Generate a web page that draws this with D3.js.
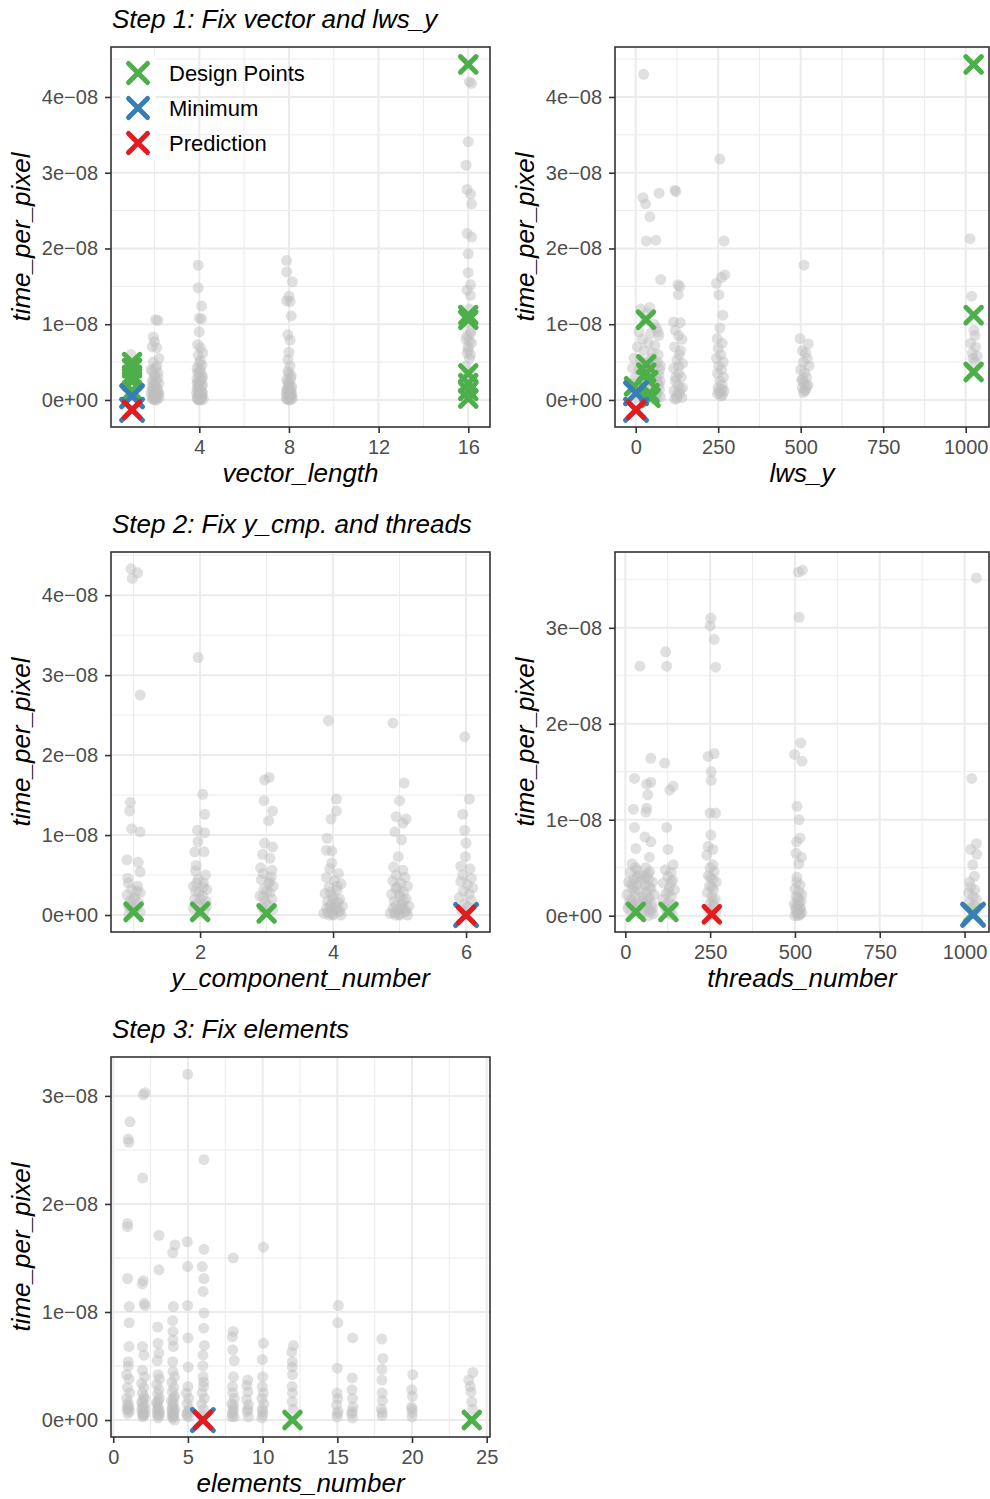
<!DOCTYPE html>
<html>
<head>
<meta charset="utf-8">
<script src="https://cdn.jsdelivr.net/npm/d3@7"></script>
<style>
body { margin: 0; background: #fff; }
svg text { font-family: "Liberation Sans", Arial, Helvetica, sans-serif; }
</style>
</head>
<body>
<svg id="chart" width="990" height="1499"></svg>
<script>
// time_per_pixel values below are in units of 1e-08

// Step 1 - vector_length
var vecGray = [
    [0.95,0.6],[1.1,0.5],[0.9,0.4],[1.05,0.3],[1.15,0.2],[0.92,0.12],[1.08,0.05],
    [2.05,1.06],[2.15,1.05],[1.95,0.83],[2.0,0.77],[1.9,0.7],[2.1,0.69],[2.2,0.55],[1.95,0.5],
    [2.1,0.45],[1.85,0.4],[2.15,0.36],[2.0,0.3],[1.9,0.25],[2.2,0.22],[2.05,0.18],[1.95,0.15],
    [2.15,0.12],[1.85,0.1],[2.0,0.08],[2.1,0.06],[1.9,0.04],[2.2,0.03],[2.0,0.02],[1.95,0.01],
    [2.1,0.0],[2.05,0.12],[1.9,0.18],[2.2,0.08],[2.15,0.3],
    [2.0,0.0],[1.9,0.02],[2.1,0.03],[2.0,0.05],[1.95,0.07],[2.15,0.09],[2.05,0.1],[1.9,0.13],
    [2.1,0.16],[2.0,0.2],[1.95,0.23],[2.1,0.26],[2.0,0.33],[1.9,0.38],[2.05,0.42],
    [3.95,1.78],[3.95,1.48],[4.1,1.24],[4.0,1.08],[4.1,1.07],[4.0,0.9],[3.92,0.73],[4.05,0.69],
    [4.15,0.62],[3.95,0.59],[4.05,0.52],[4.12,0.46],[3.9,0.42],[4.0,0.38],[4.1,0.33],[3.9,0.28],
    [4.05,0.25],[4.15,0.2],[3.95,0.17],[4.0,0.14],[4.1,0.11],[3.88,0.09],[3.98,0.07],[4.12,0.05],
    [3.92,0.03],[4.05,0.02],[4.18,0.01],[3.95,0.0],[4.08,0.0],[3.9,0.22],[4.15,0.3],
    [4.0,0.0],[3.9,0.02],[4.1,0.04],[4.0,0.06],[3.95,0.08],[4.15,0.1],[4.05,0.12],[3.9,0.15],
    [4.1,0.18],[4.0,0.21],[3.95,0.24],[4.1,0.27],[4.0,0.32],[3.92,0.36],[4.05,0.4],[4.0,0.48],
    [7.9,1.84],[7.9,1.69],[8.15,1.56],[8.0,1.37],[7.9,1.31],[8.05,1.3],[8.1,1.11],[7.95,0.86],
    [8.05,0.79],[8.0,0.63],[7.95,0.53],[8.05,0.45],[7.95,0.38],[8.1,0.32],[7.9,0.27],[8.0,0.22],
    [8.12,0.18],[7.92,0.14],[8.03,0.11],[7.88,0.08],[8.1,0.06],[7.98,0.04],[8.15,0.02],[7.9,0.01],
    [8.05,0.0],[7.95,0.16],
    [8.0,0.0],[7.9,0.02],[8.1,0.03],[8.0,0.05],[7.95,0.07],[8.12,0.09],[8.05,0.1],[7.9,0.12],
    [8.1,0.15],[8.0,0.19],[7.95,0.24],[8.08,0.28],[8.0,0.35],
    [16.05,4.2],[16.15,4.18],[16.0,3.41],[15.9,3.1],[15.95,2.78],[16.1,2.72],[16.15,2.59],
    [15.95,2.2],[16.15,2.15],[16.0,1.93],[16.0,1.68],[16.1,1.52],[15.95,1.45],[16.1,1.38],
    [16.05,1.2],[15.95,1.02],[16.1,0.88],[15.9,0.8],[16.15,0.75],[16.0,0.7],[15.95,0.62],
    [16.05,0.55],[15.9,0.45],[16.1,0.35],[16.0,0.28],[15.95,0.18],[16.1,0.1],[16.0,0.05],
    [16.1,0.9],[15.95,0.85],[16.05,0.78],[16.0,0.66],[16.1,0.6]
];
var vecDesign = [[1,0.5],[1,0.42],[1,0.33],[1,0.25],[1,0.12],[16,4.43],[16,1.12],[16,1.06],
    [16,0.35],[16,0.22],[16,0.12],[16,0.02]];
var vecMin = [[1,0.05],[1,-0.13]];
var vecPred = [[1,-0.13]];

// Step 1 - lws_y
var lwsGray = [
    [24,4.3],[22,2.67],[30,2.59],[43,2.42],[71,2.73],[32,2.1],[61,2.11],[76,1.59],
    [15,1.2],[42,1.22],[35,1.15],[28,1.05],[55,1.0],[62,0.95],[10,0.9],[45,0.88],[70,0.85],
    [20,0.8],[38,0.75],[58,0.72],[5,0.7],[25,0.65],[50,0.62],[68,0.6],[-5,0.55],[15,0.52],
    [35,0.5],[60,0.48],[75,0.45],[-10,0.42],[10,0.4],[30,0.38],[55,0.36],[70,0.33],[0,0.3],
    [20,0.28],[45,0.26],[65,0.24],[-15,0.22],[5,0.2],[25,0.18],[50,0.16],[72,0.14],[-8,0.12],
    [15,0.1],[40,0.08],[60,0.06],[75,0.04],[0,0.03],[30,0.02],[55,0.01],[68,0.9],[48,0.55],[20,0.45],
    [65,0.1],[70,0.2],[62,0.3],[72,0.4],[66,0.5],[58,0.15],[74,0.25],[52,0.05],[64,0.02],
    [119,2.77],[122,2.75],[134,1.5],[129,1.39],[128,1.52],[115,1.03],[135,1.02],[120,0.92],
    [130,0.85],[140,0.8],[118,0.7],[132,0.6],[125,0.53],[142,0.48],[115,0.42],[130,0.35],
    [138,0.3],[120,0.25],[128,0.2],[142,0.16],[116,0.12],[133,0.08],[124,0.05],[140,0.03],[118,0.01],
    [128,0.1],[135,0.15],[122,0.3],[130,0.45],[136,0.65],[124,0.02],
    [255,3.18],[268,2.1],[245,1.54],[260,1.62],[270,1.65],[252,1.39],[264,1.12],[255,0.95],
    [247,0.81],[262,0.75],[250,0.68],[258,0.6],[245,0.55],[265,0.5],[252,0.45],[260,0.4],
    [248,0.35],[266,0.3],[255,0.25],[262,0.2],[250,0.16],[268,0.12],[257,0.1],[248,0.08],[263,0.06],
    [258,0.05],[252,0.12],[262,0.14],
    [510,1.78],[498,0.81],[523,0.74],[505,0.65],[515,0.62],[520,0.55],[508,0.5],[525,0.45],
    [500,0.4],[512,0.36],[518,0.3],[503,0.26],[510,0.22],[522,0.2],[505,0.16],[515,0.13],[508,0.1],
    [512,0.12],[518,0.18],[506,0.28],
    [1013,2.13],[1018,1.37],[1025,0.92],[1028,0.85],[1015,0.75],[1030,0.7],[1020,0.62],
    [1035,0.58],[1022,0.55],[1028,0.5]
];
var lwsDesign = [[1024,4.43],[1024,1.12],[1024,0.37],[31,1.06],[32,0.47],[32,0.36],[38,0.26],
    [-5,0.18],[42,0.09],[45,0.03]];
var lwsMin = [[1,0.09],[1,-0.13]];
var lwsPred = [[1,-0.13]];

// Step 2 - y_component_number
var ycmpGray = [
    [0.96,4.33],[1.06,4.28],[0.98,4.21],[1.1,2.75],[0.95,1.41],[0.94,1.3],[0.97,1.08],[1.1,1.04],
    [0.9,0.69],[1.07,0.66],[1.1,0.54],[0.91,0.46],
    [0.92,0.4],[1.06,0.36],[0.97,0.32],[1.1,0.28],[0.9,0.25],[1.02,0.22],[0.95,0.18],[1.08,0.15],
    [0.92,0.12],[1.04,0.09],[0.98,0.06],[1.1,0.04],[0.93,0.02],
    [1.0,0.2],[0.95,0.1],[1.05,0.3],
    [1.97,3.22],[2.04,1.51],[2.07,1.26],[1.96,1.06],[2.07,1.03],[1.97,0.92],[1.92,0.79],[2.06,0.79],
    [1.94,0.62],[1.93,0.55],[2.08,0.5],[1.97,0.45],[2.05,0.4],[1.9,0.36],[2.1,0.32],[1.98,0.28],
    [2.04,0.24],[1.92,0.2],[2.09,0.17],[1.96,0.14],[2.02,0.11],[1.9,0.08],[2.07,0.06],[1.99,0.03],
    [2.1,0.12],[1.93,0.3],[2.0,0.2],[2.05,0.35],[1.95,0.4],
    [2.97,1.69],[3.04,1.72],[2.96,1.43],[3.09,1.3],[3.03,1.18],[2.97,0.9],[3.09,0.85],[2.94,0.76],
    [3.05,0.71],[2.91,0.59],[3.08,0.56],[2.95,0.52],[3.07,0.48],[2.92,0.44],[3.03,0.4],[3.1,0.36],
    [2.96,0.32],[3.05,0.28],[2.9,0.24],[3.08,0.2],[2.98,0.17],[3.02,0.13],[2.93,0.1],[3.09,0.07],[2.97,0.04],
    [3.0,0.3],[3.05,0.42],[2.95,0.22],
    [3.93,2.43],[4.05,1.45],[4.05,1.3],[3.97,1.2],[3.91,0.96],[3.9,0.81],[3.98,0.8],[3.98,0.65],
    [3.95,0.58],[4.08,0.52],[3.9,0.47],[4.02,0.43],[4.12,0.39],[3.94,0.35],[4.06,0.31],[3.88,0.27],
    [4.0,0.24],[4.1,0.2],[3.92,0.17],[4.04,0.14],[4.14,0.11],[3.9,0.08],[3.98,0.06],[4.08,0.04],
    [3.86,0.02],[4.0,0.01],[4.12,0.0],[3.94,0.0],[4.05,0.09],[3.96,0.13],
    [4.0,0.0],[3.92,0.03],[4.1,0.05],[4.02,0.08],[3.95,0.1],[4.08,0.16],[4.0,0.2],[3.96,0.28],[4.06,0.36],
    [4.9,2.4],[5.07,1.65],[5.0,1.43],[4.95,1.23],[5.1,1.2],[5.05,1.15],[4.93,1.04],[5.03,0.94],
    [4.98,0.73],[4.91,0.6],[5.05,0.56],[4.95,0.5],[5.08,0.47],[4.9,0.43],[5.02,0.4],[5.12,0.36],
    [4.94,0.33],[5.06,0.29],[4.88,0.26],[5.0,0.23],[5.1,0.2],[4.92,0.17],[5.04,0.14],[5.14,0.11],
    [4.9,0.08],[4.98,0.06],[5.08,0.04],[4.86,0.02],[5.0,0.01],[5.12,0.0],[4.94,0.0],[5.05,0.09],
    [5.0,0.0],[4.92,0.03],[5.1,0.05],[5.02,0.08],[4.95,0.12],[5.06,0.18],[5.0,0.27],[4.96,0.35],
    [5.98,2.23],[6.05,1.45],[5.95,1.26],[5.98,1.06],[6.0,0.9],[5.99,0.73],[5.92,0.61],[6.06,0.58],
    [5.95,0.5],[6.08,0.46],[5.92,0.42],[6.02,0.38],[6.1,0.34],[5.96,0.3],[6.05,0.26],[5.9,0.22],
    [6.08,0.18],[5.98,0.14],[6.03,0.1],[5.93,0.06]
];
var ycmpDesign = [[1,0.04],[2,0.04],[3,0.02]];
var ycmpMin = [[6,0.0]];
var ycmpPred = [[6,0.0]];

// Step 2 - threads_number
var thrGray = [
    [43,2.6],[27,1.43],[63,1.37],[75,1.39],[66,1.26],[75,1.64],[24,1.11],[63,1.12],[61,1.08],
    [27,0.92],[58,0.82],[75,0.77],[31,0.7],[71,0.61],[20,0.54],
    [30,0.5],[15,0.45],[40,0.42],[25,0.38],[10,0.35],[35,0.32],[20,0.28],[45,0.25],[5,0.22],
    [30,0.2],[15,0.17],[38,0.14],[22,0.11],[8,0.08],[32,0.06],[18,0.04],[42,0.02],
    [60,0.5],[72,0.46],[55,0.42],[68,0.38],[80,0.35],[58,0.32],[75,0.28],[62,0.25],[85,0.22],
    [66,0.18],[54,0.15],[78,0.12],[64,0.09],[70,0.06],[58,0.04],[82,0.02],[68,0.0],
    [25,0.3],[35,0.4],[20,0.15],[40,0.1],[62,0.15],[75,0.05],[70,0.3],[60,0.4],[28,0.25],[72,0.18],
    [33,0.48],[18,0.33],[48,0.36],[12,0.12],[52,0.2],[80,0.08],[66,0.44],
    [119,2.75],[122,2.6],[116,1.59],[131,1.31],[141,1.35],[122,0.92],[126,0.69],[141,0.53],
    [118,0.48],[135,0.45],[125,0.41],[140,0.37],[112,0.34],[130,0.3],[145,0.27],[120,0.23],
    [135,0.2],[110,0.17],[128,0.14],[142,0.11],[118,0.08],[132,0.05],[124,0.03],[138,0.01],
    [128,0.25],[122,0.12],[135,0.35],
    [252,3.1],[250,3.02],[262,2.88],[266,2.59],[244,1.66],[262,1.69],[253,1.5],[253,1.41],
    [250,1.07],[266,1.07],[252,0.84],[244,0.72],[258,0.69],[240,0.63],[258,0.53],
    [250,0.5],[262,0.46],[245,0.42],[258,0.38],[268,0.35],[248,0.31],[260,0.27],[242,0.24],
    [255,0.2],[265,0.17],[250,0.13],[260,0.1],[245,0.07],[256,0.05],[266,0.03],[252,0.01],
    [255,0.3],[258,0.15],[250,0.4],
    [510,3.58],[522,3.6],[512,3.11],[499,1.68],[517,1.8],[521,1.61],[506,1.14],[512,1.0],
    [505,0.77],[515,0.81],[503,0.65],[519,0.61],[511,0.54],[506,0.4],
    [505,0.35],[515,0.32],[500,0.28],[512,0.25],[520,0.22],[503,0.2],[510,0.17],[518,0.15],
    [498,0.12],[508,0.1],[516,0.08],[502,0.06],[512,0.05],[520,0.03],[506,0.02],[514,0.01],
    [500,0.0],[510,0.0],[508,0.04],[515,0.07],[505,0.11],[512,0.14],[508,0.19],[514,0.02],[504,0.08],
    [1035,3.52],[1021,1.43],[1018,0.69],[1035,0.75],[1036,0.64],[1024,0.53],[1029,0.41],[1015,0.35],
    [1018,0.3],[1030,0.27],[1012,0.24],[1025,0.2],[1035,0.17],[1015,0.14],[1028,0.11],[1020,0.08],[1032,0.05]
];
var thrDesign = [[31,0.04],[127,0.04],[1024,0.02]];
var thrMin = [[1025,0.01]];
var thrPred = [[255,0.015]];

// Step 3 - elements_number
var elemGray = [
    [1.12,2.76],[1.0,2.6],[1.05,2.57],[0.96,1.82],[0.96,1.79],[0.96,1.31],[1.07,1.05],[1.07,0.9],
    [1.05,0.68],[1.0,0.54],[1.0,0.5],[0.9,0.42],[1.05,0.38],[0.95,0.3],[1.1,0.25],[0.9,0.2],
    [1.0,0.16],[1.05,0.12],[0.92,0.1],[1.08,0.08],[0.98,0.06],[1.0,0.1],[0.95,0.14],
    [2.01,3.01],[2.12,3.03],[1.97,2.24],[2.01,1.29],[1.94,1.26],[2.12,1.06],[2.08,1.08],
    [1.95,0.68],[2.05,0.6],[1.95,0.46],[2.1,0.4],[1.9,0.34],[2.05,0.3],[1.95,0.25],[2.1,0.2],
    [1.9,0.16],[2.0,0.12],[2.12,0.1],[1.92,0.07],[2.05,0.05],[1.98,0.03],[2.0,0.08],[2.08,0.14],[1.96,0.18],
    [2.0,0.04],[2.1,0.06],[1.92,0.11],[2.04,0.22],
    [3.06,1.71],[3.06,1.39],[2.97,0.86],[3.0,0.71],[3.05,0.62],[2.95,0.55],[3.0,0.42],[3.1,0.38],
    [2.92,0.33],[3.05,0.28],[2.98,0.24],[3.08,0.2],[2.9,0.16],[3.02,0.12],[3.1,0.08],[2.95,0.05],[3.0,0.02],
    [3.0,0.1],[2.96,0.15],[3.05,0.06],[3.08,0.04],[2.94,0.09],[3.02,0.18],
    [4.13,1.62],[3.98,1.55],[4.02,1.05],[3.98,0.92],[4.0,0.82],[4.0,0.74],[4.02,0.68],[3.98,0.54],
    [4.0,0.45],[4.1,0.4],[3.92,0.35],[4.05,0.3],[3.95,0.26],[4.1,0.22],[3.9,0.18],[4.02,0.14],
    [4.12,0.1],[3.95,0.07],[4.05,0.04],[3.98,0.02],[4.1,0.0],[4.0,0.06],[3.96,0.12],[4.04,0.2],
    [4.0,0.03],[4.08,0.08],[3.92,0.1],[4.0,0.16],[3.95,0.04],
    [4.98,3.2],[4.96,1.65],[4.98,1.42],[4.98,1.06],[5.0,0.76],[5.02,0.49],[5.0,0.31],[4.9,0.25],
    [5.05,0.2],[4.95,0.15],[5.1,0.1],[4.92,0.06],[5.05,0.03],[5.0,0.08],[4.95,0.04],
    [6.07,2.41],[6.07,1.58],[5.96,1.42],[6.07,1.31],[6.02,1.19],[6.07,0.99],[6.05,0.85],[6.1,0.69],
    [6.0,0.6],[6.02,0.4],[6.05,0.31],[5.95,0.25],[6.1,0.2],[5.92,0.15],[6.05,0.1],[5.98,0.05],
    [6.0,0.5],[6.05,0.35],
    [8.03,1.5],[8.03,0.82],[7.97,0.77],[8.0,0.65],[8.1,0.55],[8.05,0.4],[7.98,0.31],[8.0,0.25],
    [8.1,0.2],[7.92,0.15],[8.05,0.1],[7.98,0.06],[8.1,0.03],[8.0,0.08],[8.05,0.14],[7.95,0.03],
    [9.0,0.37],[8.95,0.32],[9.02,0.26],[8.93,0.19],[9.05,0.14],[8.98,0.08],[9.05,0.03],[9.0,0.1],
    [10.05,1.6],[10.05,0.71],[9.98,0.56],[10.0,0.4],[9.98,0.31],[10.05,0.25],[9.95,0.2],[10.08,0.15],
    [9.98,0.1],[10.02,0.05],[9.95,0.02],[10.0,0.08],
    [12.06,0.69],[11.95,0.63],[11.99,0.54],[11.98,0.49],[12.0,0.42],[11.98,0.31],[12.0,0.25],[11.98,0.17],
    [12.05,0.1],
    [15.07,1.06],[15.03,0.9],[15.0,0.48],[14.98,0.25],[15.02,0.2],[14.95,0.14],[15.05,0.08],[14.98,0.03],
    [15.0,0.06],
    [16.03,0.76],[16.0,0.39],[15.98,0.28],[16.02,0.2],[16.05,0.12],[15.95,0.06],[16.02,0.02],[16.0,0.08],
    [17.98,0.75],[18.05,0.57],[17.98,0.47],[17.98,0.37],[18.0,0.25],[18.02,0.18],[17.95,0.1],[18.0,0.04],
    [18.0,0.07],
    [20.05,0.42],[19.98,0.28],[20.03,0.22],[19.97,0.12],[20.02,0.07],[20.0,0.03],[20.0,0.1],
    [24.07,0.44],[23.8,0.37],[23.9,0.31],[23.95,0.26],[24.0,0.17],[24.05,0.1]
];
var elemDesign = [[12,0.0],[24,0.0]];
var elemMin = [[6,0.0]];
var elemPred = [[6,0.0]];

var legendLabels = ["Design Points", "Minimum", "Prediction"];
var markColors = { design: "#4daf4a", min: "#377eb8", pred: "#e41a1c" };

var svg = d3.select("#chart");
var gridCol = "#ebebeb", inkCol = "#333333", tickTextCol = "#4d4d4d";

function crossPath(a) {
    return "M" + (-a) + "," + (-a) + "L" + a + "," + a + "M" + (-a) + "," + a + "L" + a + "," + (-a);
}

function yLabel(d) {
    return d === 0 ? "0e+00" : d + "e\u221208";
}

function drawPanel(cfg) {
    var g = svg.append("g");
    var x = d3.scaleLinear().domain(cfg.xDomain).range([cfg.left, cfg.right]);
    var y = d3.scaleLinear().domain(cfg.yDomain).range([cfg.bottom, cfg.top]);

    // grid
    var grid = g.append("g");
    cfg.xMinor.forEach(function (v) {
        grid.append("line").attr("x1", x(v)).attr("x2", x(v)).attr("y1", cfg.top).attr("y2", cfg.bottom)
            .style("stroke", gridCol).style("stroke-width", 1);
    });
    cfg.yMinor.forEach(function (v) {
        if (y(v) < cfg.top) return;
        grid.append("line").attr("y1", y(v)).attr("y2", y(v)).attr("x1", cfg.left).attr("x2", cfg.right)
            .style("stroke", gridCol).style("stroke-width", 1);
    });
    cfg.xTicks.forEach(function (v) {
        grid.append("line").attr("x1", x(v)).attr("x2", x(v)).attr("y1", cfg.top).attr("y2", cfg.bottom)
            .style("stroke", gridCol).style("stroke-width", 2);
    });
    cfg.yTicks.forEach(function (v) {
        grid.append("line").attr("y1", y(v)).attr("y2", y(v)).attr("x1", cfg.left).attr("x2", cfg.right)
            .style("stroke", gridCol).style("stroke-width", 2);
    });

    // jittered observations
    g.append("g").selectAll("circle")
        .data(cfg.gray)
        .enter().append("circle")
        .attr("cx", function (d) { return x(d[0]); })
        .attr("cy", function (d) { return y(d[1]); })
        .attr("r", 5.5)
        .style("fill", "#bebebe")
        .style("opacity", 0.48);

    // design points, minimum, prediction
    [["design", cfg.design, 7.8], ["min", cfg.min, 10.5], ["pred", cfg.pred, 7.8]].forEach(function (m) {
        g.append("g").selectAll("path")
            .data(m[1])
            .enter().append("path")
            .attr("transform", function (d) { return "translate(" + x(d[0]) + "," + y(d[1]) + ")"; })
            .attr("d", crossPath(m[2]))
            .style("stroke", markColors[m[0]])
            .style("stroke-width", 5)
            .style("stroke-linecap", "round")
            .style("fill", "none");
    });

    // border
    g.append("rect")
        .attr("x", cfg.left).attr("y", cfg.top)
        .attr("width", cfg.right - cfg.left).attr("height", cfg.bottom - cfg.top)
        .style("fill", "none").style("stroke", inkCol).style("stroke-width", 1.6);

    // axes
    var xAxis = g.append("g")
        .attr("transform", "translate(0," + cfg.bottom + ")")
        .call(d3.axisBottom(x).tickValues(cfg.xTicks).tickSize(6).tickPadding(7).tickFormat(d3.format("d")));
    var yAxis = g.append("g")
        .attr("transform", "translate(" + cfg.left + ",0)")
        .call(d3.axisLeft(y).tickValues(cfg.yTicks).tickSize(6).tickPadding(7).tickFormat(yLabel));
    [xAxis, yAxis].forEach(function (ax) {
        ax.select(".domain").remove();
        ax.selectAll(".tick line").style("stroke", inkCol).style("stroke-width", 1.6);
        ax.selectAll(".tick text").style("fill", tickTextCol).style("font-size", "20px")
            .style("font-family", "'Liberation Sans', Arial, sans-serif");
    });

    // titles
    g.append("text")
        .attr("x", (cfg.left + cfg.right) / 2).attr("y", cfg.bottom + 55)
        .attr("text-anchor", "middle")
        .style("font-size", "26px").style("font-style", "italic")
        .text(cfg.xTitle);
    g.append("text")
        .attr("transform", "translate(" + (cfg.left - 81) + "," + ((cfg.top + cfg.bottom) / 2) + ") rotate(-90)")
        .attr("text-anchor", "middle")
        .style("font-size", "26px").style("font-style", "italic")
        .text("time_per_pixel");
    if (cfg.title) {
        g.append("text")
            .attr("x", cfg.left + 1).attr("y", cfg.top - 19)
            .style("font-size", "26px").style("font-style", "italic")
            .text(cfg.title);
    }
    return g;
}

var yTicks4 = [0, 1, 2, 3, 4], yMinor4 = [0.5, 1.5, 2.5, 3.5, 4.5];
var yTicks3 = [0, 1, 2, 3], yMinor3 = [0.5, 1.5, 2.5, 3.5];
var bigTicks = [0, 250, 500, 750, 1000], bigMinor = [125, 375, 625, 875];

var p1 = drawPanel({
    left: 111, right: 490, top: 47, bottom: 427,
    xDomain: [0.06, 16.97], yDomain: [-0.357, 4.66],
    xTicks: [4, 8, 12, 16], xMinor: [2, 6, 10, 14], yTicks: yTicks4, yMinor: yMinor4,
    gray: vecGray, design: vecDesign, min: vecMin, pred: vecPred,
    xTitle: "vector_length", title: "Step 1: Fix vector and lws_y"
});
drawPanel({
    left: 615, right: 989, top: 47, bottom: 427,
    xDomain: [-62.7, 1070.6], yDomain: [-0.357, 4.66],
    xTicks: bigTicks, xMinor: bigMinor, yTicks: yTicks4, yMinor: yMinor4,
    gray: lwsGray, design: lwsDesign, min: lwsMin, pred: lwsPred,
    xTitle: "lws_y"
});
drawPanel({
    left: 111, right: 490, top: 552, bottom: 932,
    xDomain: [0.66, 6.36], yDomain: [-0.2125, 4.54],
    xTicks: [2, 4, 6], xMinor: [1, 3, 5], yTicks: yTicks4, yMinor: yMinor4,
    gray: ycmpGray, design: ycmpDesign, min: ycmpMin, pred: ycmpPred,
    xTitle: "y_component_number", title: "Step 2: Fix y_cmp. and threads"
});
drawPanel({
    left: 615, right: 989, top: 552, bottom: 932,
    xDomain: [-30.4, 1072], yDomain: [-0.17, 3.79],
    xTicks: bigTicks, xMinor: bigMinor, yTicks: yTicks3, yMinor: yMinor3,
    gray: thrGray, design: thrDesign, min: thrMin, pred: thrPred,
    xTitle: "threads_number"
});
drawPanel({
    left: 111, right: 490, top: 1057, bottom: 1437,
    xDomain: [-0.15, 25.22], yDomain: [-0.157, 3.36],
    xTicks: [0, 5, 10, 15, 20, 25], xMinor: [2.5, 7.5, 12.5, 17.5, 22.5], yTicks: yTicks3, yMinor: yMinor3,
    gray: elemGray, design: elemDesign, min: elemMin, pred: elemPred,
    xTitle: "elements_number", title: "Step 3: Fix elements"
});

// legend inside the first panel
var legend = p1.append("g").attr("transform", "translate(120.5,55.5)");
var legendKeys = ["design", "min", "pred"];
legendLabels.forEach(function (lab, i) {
    var row = legend.append("g").attr("transform", "translate(0," + (i * 35) + ")");
    row.append("rect").attr("width", 35).attr("height", 35).style("fill", "#fff");
    row.append("path")
        .attr("transform", "translate(17.5,17.5)")
        .attr("d", crossPath(9.5))
        .style("stroke", markColors[legendKeys[i]])
        .style("stroke-width", 5)
        .style("stroke-linecap", "round")
        .style("fill", "none");
    row.append("text")
        .attr("x", 48.5).attr("y", 25.5)
        .style("font-size", "22px")
        .text(lab);
});
</script>
</body>
</html>
